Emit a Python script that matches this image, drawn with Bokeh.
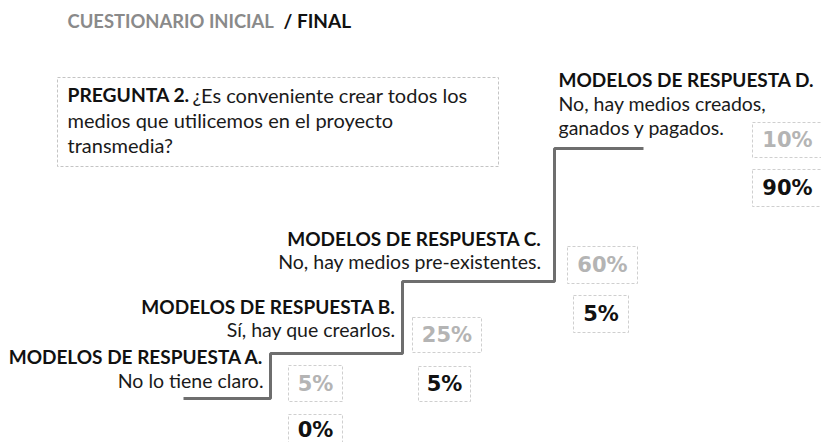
from bokeh.plotting import figure
from bokeh.models import Range1d, ColumnDataSource
from bokeh.core.properties import value
from bokeh.embed import file_html
from bokeh.resources import INLINE

# ---------------- data ----------------
categories = ["A", "B", "C", "D"]
titles = ["MODELOS DE RESPUESTA A.", "MODELOS DE RESPUESTA B.",
          "MODELOS DE RESPUESTA C.", "MODELOS DE RESPUESTA D."]
answers = [["No lo tiene claro."], ["Sí, hay que crearlos."],
           ["No, hay medios pre-existentes."],
           ["No, hay medios creados,", "ganados y pagados."]]
initial_pct = [5, 25, 60, 10]
final_pct = [0, 5, 5, 90]
header_initial = "CUESTIONARIO INICIAL"
header_final = "/ FINAL"
question_bold = "PREGUNTA 2."
question_lines = ["¿Es conveniente crear todos los",
                  "medios que utilicemos en el proyecto",
                  "transmedia?"]

# ---------------- layout (page pixels) ----------------
W, H = 821, 442
step_x = [183, 270, 402, 554, 643]        # step edges
step_y = [398, 353, 281, 148]             # step levels
label_x = [263, 395, 541, 558]
label_align = ["right", "right", "right", "left"]
title_base = [356, 306, 238, 79]
line_gap = [24, 23, 23, 24]
init_box = [(288, 342, 365, 401), (412, 481, 317, 352), (567, 637, 246, 283), (752, 822, 122, 157)]
final_box = [(288, 342, 414, 450), (418, 470, 366, 401), (573, 628, 295, 332), (752, 822, 169, 206)]

FONT = "Lato"
PCT_FONT = "DejaVu Sans"

p = figure(width=W, height=H, output_backend="svg", toolbar_location=None,
           x_range=Range1d(0, W), y_range=Range1d(H, 0),
           min_border=0, outline_line_color=None, background_fill_color="white")
p.axis.visible = False
p.grid.visible = False

# header
p.text(x=[67], y=[20], text=[header_initial], text_font=value(FONT), text_font_style="bold",
       text_font_size="18.4px", text_color="#8a8a8a", text_baseline="alphabetic")
p.text(x=[283], y=[20], text=[header_final], text_font=value(FONT), text_font_style="bold",
       text_font_size="19px", text_color="#111111", text_baseline="alphabetic")

# question box
p.quad(left=[57], right=[498], top=[77], bottom=[166], fill_color=None,
       line_color="#c4c4c4", line_dash="3 2", line_width=1)
p.text(x=[67], y=[94], text=[question_bold], text_font=value(FONT), text_font_style="bold",
       text_font_size="19.3px", text_color="#111111", text_baseline="alphabetic")
p.text(x=[192, 67, 67], y=[94, 119, 144], text=question_lines, text_font=value(FONT),
       text_font_size="20px", text_color="#1a1a1a", text_baseline="alphabetic")

# staircase
xs, ys = [], []
for i in range(len(categories)):
    xs += [step_x[i], step_x[i + 1]]
    ys += [step_y[i], step_y[i]]
p.line(x=xs, y=ys, line_color="#6e6e6e", line_width=3)

# labels
for i in range(len(categories)):
    p.text(x=[label_x[i]], y=[title_base[i]], text=[titles[i]], text_font=value(FONT),
           text_font_style="bold", text_font_size="19px", text_color="#111111",
           text_align=label_align[i], text_baseline="alphabetic")
    n = len(answers[i])
    p.text(x=[label_x[i]] * n, y=[title_base[i] + line_gap[i] * (k + 1) for k in range(n)],
           text=answers[i], text_font=value(FONT), text_font_size="19.5px",
           text_color="#1a1a1a", text_align=label_align[i], text_baseline="alphabetic")

# percentage boxes
def boxes(boxlist, vals, color):
    src = ColumnDataSource(dict(
        l=[b[0] for b in boxlist], r=[b[1] for b in boxlist],
        t=[b[2] for b in boxlist], b=[b[3] for b in boxlist],
        cx=[(b[0] + b[1]) / 2 for b in boxlist],
        cy=[(b[2] + min(b[3], 442)) / 2 + (0 if b[3] <= 442 else 1) for b in boxlist],
        lab=[f"{v}%" for v in vals]))
    p.quad(left="l", right="r", top="t", bottom="b", source=src, fill_color=None,
           line_color="#cfcfcf", line_dash="3 2", line_width=1)
    p.text(x="cx", y="cy", text="lab", source=src, text_font=value(PCT_FONT),
           text_font_style="bold", text_font_size="21px", text_color=color,
           text_align="center", text_baseline="middle")

boxes(init_box, initial_pct, "#b4b4b4")
boxes(final_box, final_pct, "#111111")

open("out.html", "w").write(file_html(p, INLINE))
